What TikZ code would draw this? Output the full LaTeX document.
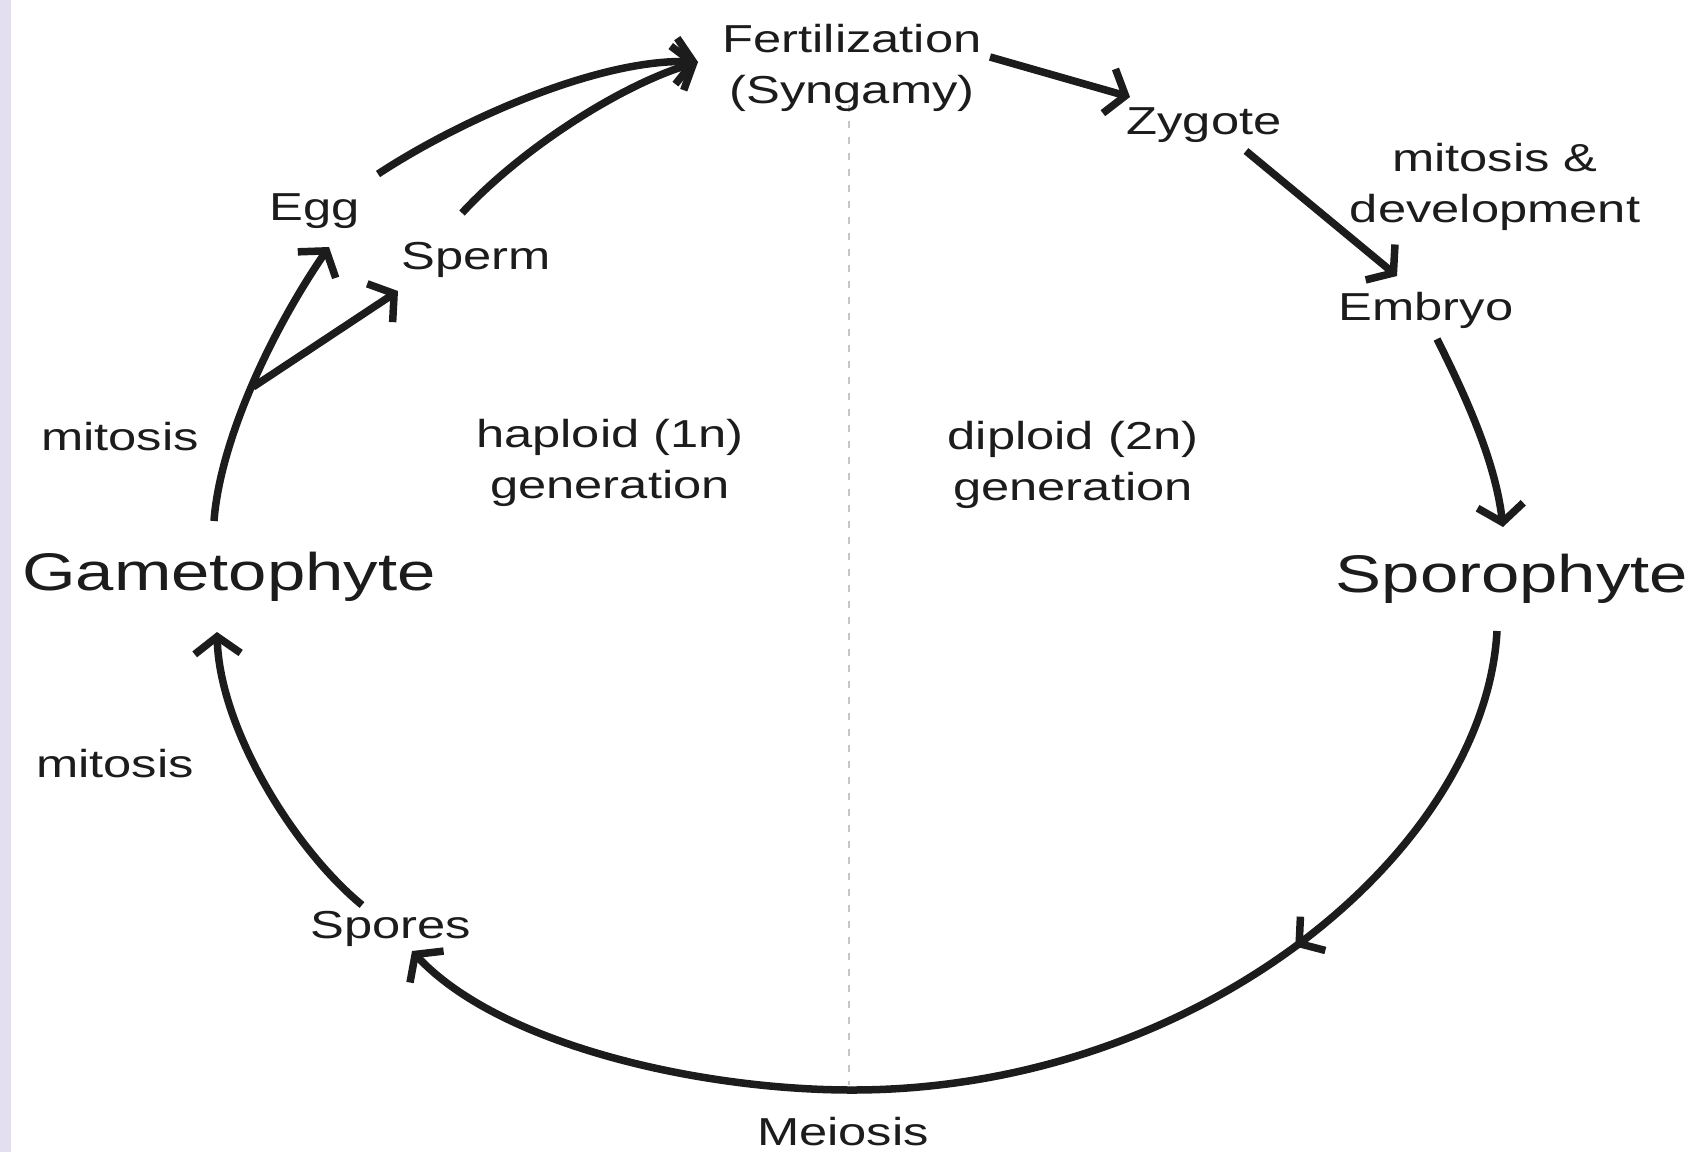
\documentclass[tikz,border=0pt]{standalone}
\usepackage{fontspec}
\setmainfont{Liberation Sans}[FakeStretch=1.3]
\usetikzlibrary{arrows.meta,decorations.markings}
\definecolor{lav}{HTML}{E3DFEE}
\definecolor{ink}{HTML}{1C1C1C}
\begin{document}
\begin{tikzpicture}[x=1pt,y=-1pt,
  lbl/.style={font=\fontsize{39}{51}\selectfont, text=ink, inner sep=0pt, align=center, anchor=base},
  big/.style={font=\fontsize{53}{60}\selectfont, text=ink, inner sep=0pt, anchor=base},
  arr/.style={draw=ink, line width=7.5pt, -{Straight Barb[length=17pt,width=46pt]}},
  divider/.style={draw=gray!45, line width=2pt, dash pattern=on 7pt off 9pt},
]
\useasboundingbox (0,0) rectangle (1692,1152);
\fill[white] (0,0) rectangle (1692,1152);
\fill[lav] (0,0) rectangle (11,1152);
\coordinate (divT) at (849,105);
\coordinate (divB) at (849,1085);
\draw[divider] (divT) -- (divB);

\node[lbl] (fert) at (852,103) {Fertilization\\(Syngamy)};
\node[lbl] (zyg) at (1204,134) {Zygote};
\node[lbl] (mitdev) at (1495,222) {mitosis \&\\development};
\node[lbl] (emb) at (1426,320) {Embryo};
\node[big] (spor) at (1512,592) {Sporophyte};
\node[lbl] (meio) at (843,1145) {Meiosis};
\node[lbl] (spores) at (391,938) {Spores};
\node[lbl] (mit2) at (115,777) {mitosis};
\node[big] (gam) at (229,590) {Gametophyte};
\node[lbl] (mit1) at (120,450) {mitosis};
\node[lbl] (egg) at (315,220) {Egg};
\node[lbl] (sperm) at (476,269) {Sperm};
\node[lbl] (hap) at (610,498) {haploid (1n)\\generation};
\node[lbl] (dip) at (1073,500) {diploid (2n)\\generation};

\coordinate (gamS) at (214,521);
\coordinate (br) at (253,387);
\coordinate (eggT) at (329,247);
\coordinate (spermT) at (398,291);
\coordinate (eggS) at (378,174);
\coordinate (spermS) at (462,213);
\coordinate (fertT) at (698,62);
\coordinate (fertS) at (990,57);
\coordinate (zygT) at (1130,97);
\coordinate (zygS) at (1246,151);
\coordinate (embT) at (1397,276);
\coordinate (embS) at (1437,339);
\coordinate (sporT) at (1503,527);
\coordinate (sporS) at (1497,631);
\coordinate (low) at (852,1090);
\coordinate (sporesT) at (412,951);
\coordinate (sporesS) at (362,905);
\coordinate (gamT) at (217,632);

\draw[arr] (gamS) .. controls (220,440) and (272,330) .. (eggT);
\draw[arr] (br) -- (spermT);
\draw[arr] (eggS) .. controls (460,120) and (600,58) .. (fertT);
\draw[arr] (spermS) .. controls (520,150) and (620,85) .. (fertT);
\draw[arr] (fertS) -- (zygT);
\draw[arr] (zygS) -- (embT);
\draw[arr] (embS) .. controls (1465,395) and (1495,460) .. (sporT);
\draw[arr, postaction={decorate}, decoration={markings,
    mark=at position 0.29 with {\arrow[line width=7.5pt]{Straight Barb[length=17pt,width=42pt]}}}]
  (sporS) .. controls (1485,850) and (1200,1090) .. (low)
  .. controls (700,1090) and (500,1045) .. (sporesT);
\draw[arr] (sporesS) .. controls (295,850) and (220,730) .. (gamT);
\end{tikzpicture}
\end{document}
